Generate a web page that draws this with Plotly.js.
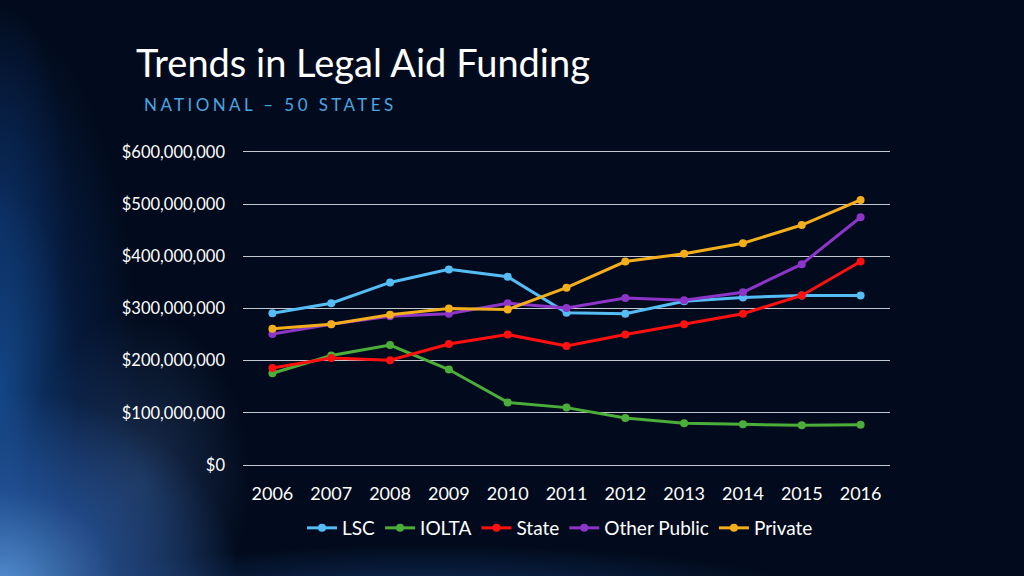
<!DOCTYPE html>
<html>
<head>
<meta charset="utf-8">
<script src="https://cdn.plot.ly/plotly-3.0.1.min.js"></script>
<style>
  html, body { margin: 0; padding: 0; width: 1024px; height: 576px; overflow: hidden; }
  body {
    background:
      radial-gradient(ellipse 240px 200px at 0px 590px, rgba(105,175,250,0.8), rgba(55,115,205,0.45) 50%, rgba(0,0,0,0) 100%),
      radial-gradient(ellipse 110px 170px at 140px 480px, rgba(80,130,200,0.3), rgba(0,0,0,0) 100%),
      radial-gradient(ellipse 140px 380px at 0px 390px, rgba(30,105,195,0.6), rgba(15,60,130,0.3) 55%, rgba(0,0,0,0) 100%),
      radial-gradient(ellipse 70px 220px at 0px 220px, rgba(20,80,160,0.35), rgba(0,0,0,0) 100%),
      radial-gradient(ellipse 380px 50px at 430px 595px, rgba(30,85,160,0.45), rgba(0,0,0,0) 100%),
      #020b1d;
  }
  #chart { width: 1024px; height: 576px; }
  .annotation-text { letter-spacing: 3.4px; }
</style>
</head>
<body>
<div id="chart"></div>
<script>
const years = ['2006','2007','2008','2009','2010','2011','2012','2013','2014','2015','2016'];
const lsc = [291e6, 310e6, 350e6, 375e6, 361e6, 292e6, 290e6, 314e6, 321e6, 325e6, 325e6];
const iolta = [176e6, 210e6, 230e6, 183e6, 120e6, 110e6, 90e6, 80e6, 78e6, 76e6, 77e6];
const state = [186e6, 205e6, 201e6, 232e6, 250e6, 228e6, 250e6, 270e6, 290e6, 325e6, 390e6];
const otherPublic = [251e6, 270e6, 285e6, 290e6, 310e6, 301e6, 320e6, 316e6, 331e6, 385e6, 475e6];
const privateF = [261e6, 270e6, 288e6, 300e6, 298e6, 340e6, 390e6, 405e6, 425e6, 460e6, 508e6];
const yTicks = [0, 100e6, 200e6, 300e6, 400e6, 500e6, 600e6];
const yTickLabels = ['$0','$100,000,000','$200,000,000','$300,000,000','$400,000,000','$500,000,000','$600,000,000'];

const seriesNames = ['LSC','IOLTA','State','Other Public','Private'];
const seriesData = [lsc, iolta, state, otherPublic, privateF];
const seriesColors = ['#55bdf5','#4cae3a','#ff1010','#8c35c8','#f4ae1c'];

const traces = seriesNames.map((n, i) => ({
  x: years, y: seriesData[i], name: n, type: 'scatter', mode: 'lines+markers',
  line: {color: seriesColors[i], width: 3},
  marker: {color: seriesColors[i], size: 8}
}));

const layout = {
  width: 1024, height: 576,
  paper_bgcolor: 'rgba(0,0,0,0)', plot_bgcolor: 'rgba(0,0,0,0)',
  margin: {l: 243, r: 134, t: 152, b: 111},
  font: {family: 'Lato, "Open Sans", sans-serif', color: '#ffffff'},
  title: {
    text: 'Trends in Legal Aid Funding',
    xref: 'container', yref: 'container', x: 136/1024, y: 1 - 64/576,
    xanchor: 'left', yanchor: 'middle',
    font: {family: 'Lato, "Open Sans", sans-serif', size: 38, color: '#ffffff'}
  },
  annotations: [{
    text: 'NATIONAL – 50 STATES', xref: 'paper', yref: 'paper',
    x: (142-243)/647, y: 1 + (152-104)/313, xanchor: 'left', yanchor: 'middle',
    showarrow: false, font: {family: 'Lato, "Open Sans", sans-serif', size: 17, color: '#4aa6e0'}
  }],
  xaxis: {
    type: 'category', range: [-0.5, 10.5], showgrid: false, zeroline: false,
    showline: true, mirror: true, linecolor: '#c4c8d0', linewidth: 1,
    ticks: '', ticklabelstandoff: 12,
    tickfont: {family: 'Lato, "Open Sans", sans-serif', size: 18, color: '#ffffff'}
  },
  yaxis: {
    range: [0, 600e6], tickvals: yTicks, ticktext: yTickLabels,
    showgrid: true, gridcolor: '#c4c8d0', gridwidth: 1, zeroline: false, showline: false,
    ticks: '', ticklabelstandoff: 17,
    tickfont: {family: 'Lato, "Open Sans", sans-serif', size: 16.5, color: '#ffffff'}
  },
  legend: {
    orientation: 'h', xref: 'container', yref: 'container',
    x: 560/1024, y: 1 - 528/576, xanchor: 'center', yanchor: 'middle',
    font: {family: 'Lato, "Open Sans", sans-serif', size: 19, color: '#ffffff'},
    itemwidth: 30, tracegroupgap: 0, bgcolor: 'rgba(0,0,0,0)'
  },
  showlegend: true
};

Plotly.newPlot('chart', traces, layout, {displayModeBar: false, staticPlot: true});
</script>
</body>
</html>
